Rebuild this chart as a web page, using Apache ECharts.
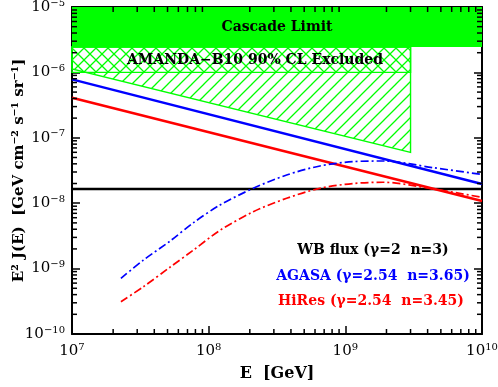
<!DOCTYPE html>
<html><head><meta charset="utf-8">
<script src="https://cdn.jsdelivr.net/npm/echarts@6/dist/echarts.min.js"></script>
<style>html,body{margin:0;padding:0;background:#fff}#c{width:498px;height:387px}</style>
</head><body><div id="c"></div>
<script>
// ---- axis ranges and ticks ----
const xMin = 1e7, xMax = 1e10;
const yMin = 1e-10, yMax = 1e-5;
const xDecades = [7, 8, 9];
const yDecades = [-10, -9, -8, -7, -6];

// ---- limits ----
const cascadeLimit = 2.44e-6;
const amandaEmax = 3e9;
const amandaCrossBottom = 1e-6;
const amandaSlopeE = [1e7, 3e9];
const amandaSlopeFlux = [1.13e-6, 6.0e-8];

// ---- fluxes ----
const wbFlux = 1.65e-8;
const powerE = [1e7, 1e10];
const agasaPower = [7.83e-7, 1.97e-8];
const hiresPower = [4.1e-7, 1.08e-8];

const curveE = [2.28e7, 3.33e7, 5.21e7, 7.71e7, 1.21e8, 2.12e8, 3.72e8, 6.52e8, 1.14e9, 1.89e9, 4.40e9, 1e10];
const agasaCurve = [7.11e-10, 1.35e-9, 2.63e-9, 5.01e-9, 9.38e-9, 1.69e-8, 2.70e-8, 3.71e-8, 4.32e-8, 4.42e-8, 3.49e-8, 2.75e-8];
const hiresCurve = [3.12e-10, 5.28e-10, 1.05e-9, 1.91e-9, 3.85e-9, 7.41e-9, 1.19e-8, 1.69e-8, 2.0e-8, 2.09e-8, 1.65e-8, 1.23e-8];

const GREEN = '#00ff00';
const SERIF = '"DejaVu Serif", serif';

function makePattern(dir) {
  const s = 12, c = document.createElement('canvas');
  c.width = s; c.height = s;
  const g = c.getContext('2d');
  g.strokeStyle = GREEN; g.lineWidth = 1.3;
  g.beginPath();
  if (dir === '/') {
    for (const k of [0, 1, 2]) { g.moveTo(-2, k * s + 2); g.lineTo(k * s + 2, -2); }
  } else {
    for (const k of [-1, 0, 1]) { g.moveTo(k * s - 2, -2); g.lineTo(k * s + s + 2, s + 2); }
  }
  g.stroke();
  return { image: c, repeat: 'repeat' };
}

const zip = (a, b) => a.map((v, i) => [v, b[i]]);

function polygonSeries(pts, fill, stroke, z) {
  return {
    type: 'custom', z: z, silent: true, data: [[pts[0][0], pts[0][1]]],
    renderItem: function (params, api) {
      const points = pts.map(p => api.coord(p));
      return { type: 'polygon', shape: { points: points },
        style: { fill: fill, stroke: stroke || null, lineWidth: 1.4 } };
    }
  };
}

// minor tick values (2..9 x each decade)
const xMinor = [], yMinor = [];
xDecades.forEach(d => { for (let m = 2; m <= 9; m++) xMinor.push(m * Math.pow(10, d)); });
yDecades.forEach(d => { for (let m = 2; m <= 9; m++) yMinor.push(m * Math.pow(10, d)); });

const labelFmt = v => '{b|10}{s|' + String(Math.round(Math.log10(v))).replace('-', '−') + '}';
const labelRich = {
  b: { fontFamily: SERIF, fontSize: 15, color: '#000', lineHeight: 18 },
  s: { fontFamily: SERIF, fontSize: 10, color: '#000', verticalAlign: 'top', lineHeight: 10 }
};

function axisBase(extra) {
  return Object.assign({
    type: 'log', logBase: 10,
    axisLine: { show: true, onZero: false, lineStyle: { color: '#000', width: 2 } },
    axisTick: { show: true, inside: true, length: 8, lineStyle: { color: '#000', width: 1.5 } },
    splitLine: { show: false },
    axisLabel: { show: false },
    nameMoveOverlap: false
  }, extra);
}

const textGraphics = [
  { type: 'text', x: 277, y: 27, z: 20, style: { text: 'Cascade Limit', font: 'bold 14px ' + SERIF, fill: '#000', textAlign: 'center', textVerticalAlign: 'middle' } },
  { type: 'text', x: 255, y: 60, z: 20, style: { text: 'AMANDA−B10 90% CL Excluded', font: 'bold 14px ' + SERIF, fill: '#000', textAlign: 'center', textVerticalAlign: 'middle' } },
  { type: 'text', x: 373, y: 250, z: 20, style: { text: 'WB flux (γ=2  n=3)', font: 'bold 14px ' + SERIF, fill: '#000', textAlign: 'center', textVerticalAlign: 'middle' } },
  { type: 'text', x: 373, y: 276, z: 20, style: { text: 'AGASA (γ=2.54  n=3.65)', font: 'bold 14px ' + SERIF, fill: '#0000ff', textAlign: 'center', textVerticalAlign: 'middle' } },
  { type: 'text', x: 371, y: 301, z: 20, style: { text: 'HiRes (γ=2.54  n=3.45)', font: 'bold 14px ' + SERIF, fill: '#ff0000', textAlign: 'center', textVerticalAlign: 'middle' } }
];

const chart = echarts.init(document.getElementById('c'), null, { renderer: 'canvas' });
chart.setOption({
  animation: false,
  backgroundColor: '#fff',
  grid: { left: 72, right: 16, top: 7, bottom: 53, containLabel: false, outerBoundsMode: 'none' },
  xAxis: [
    axisBase({ min: xMin, max: xMax, position: 'bottom',
      axisLabel: { show: true, formatter: labelFmt, rich: labelRich, margin: 8 },
      name: 'E  [GeV]', nameLocation: 'middle', nameGap: 32,
      nameTextStyle: { fontFamily: SERIF, fontSize: 16, fontWeight: 'bold', color: '#000' } }),
    axisBase({ min: xMin, max: xMax, position: 'top' })
  ],
  yAxis: [
    axisBase({ min: yMin, max: yMax, position: 'left',
      axisLabel: { show: true, formatter: labelFmt, rich: labelRich, margin: 7 },
      name: 'E² J(E)  [GeV cm⁻² s⁻¹ sr⁻¹]', nameLocation: 'middle', nameGap: 45,
      nameTextStyle: { fontFamily: SERIF, fontSize: 15, fontWeight: 'bold', color: '#000' } }),
    axisBase({ min: yMin, max: yMax, position: 'right' })
  ],
  series: [
    polygonSeries([[xMin, cascadeLimit], [xMax, cascadeLimit], [xMax, yMax], [xMin, yMax]], GREEN, null, 1),
    polygonSeries([[xMin, cascadeLimit], [amandaEmax, cascadeLimit], [amandaEmax, amandaSlopeFlux[1]], [amandaSlopeE[0], amandaSlopeFlux[0]]], makePattern('/'), GREEN, 1),
    polygonSeries([[xMin, cascadeLimit], [amandaEmax, cascadeLimit], [amandaEmax, amandaCrossBottom], [xMin, amandaCrossBottom]], makePattern('\\'), GREEN, 1),
    { type: 'line', z: 3, symbol: 'none', data: [[xMin, wbFlux], [xMax, wbFlux]], lineStyle: { color: '#000', width: 2.5 } },
    { type: 'line', z: 3, symbol: 'none', data: zip(powerE, agasaPower), lineStyle: { color: '#0000ff', width: 2.5 } },
    { type: 'line', z: 3, symbol: 'none', data: zip(powerE, hiresPower), lineStyle: { color: '#ff0000', width: 2.5 } },
    { type: 'line', z: 3, symbol: 'none', smooth: 0.3, data: zip(curveE, agasaCurve), lineStyle: { color: '#0000ff', width: 1.7, type: [8, 3, 2, 3] } },
    { type: 'line', z: 3, symbol: 'none', smooth: 0.3, data: zip(curveE, hiresCurve), lineStyle: { color: '#ff0000', width: 1.7, type: [8, 3, 2, 3] } }
  ],
  graphic: textGraphics
});

// minor ticks: positions come from the chart's own log scales
const tickStyle = { stroke: '#000', lineWidth: 1.5 };
const minorTicks = [];
const ML = 5;
xMinor.forEach(v => {
  const b = chart.convertToPixel({ gridIndex: 0 }, [v, yMin]);
  const t = chart.convertToPixel({ gridIndex: 0 }, [v, yMax]);
  minorTicks.push({ type: 'line', z: 25, silent: true, shape: { x1: b[0], y1: b[1], x2: b[0], y2: b[1] - ML }, style: tickStyle });
  minorTicks.push({ type: 'line', z: 25, silent: true, shape: { x1: t[0], y1: t[1], x2: t[0], y2: t[1] + ML }, style: tickStyle });
});
yMinor.forEach(v => {
  const l = chart.convertToPixel({ gridIndex: 0 }, [xMin, v]);
  const r = chart.convertToPixel({ gridIndex: 0 }, [xMax, v]);
  minorTicks.push({ type: 'line', z: 25, silent: true, shape: { x1: l[0], y1: l[1], x2: l[0] + ML, y2: l[1] }, style: tickStyle });
  minorTicks.push({ type: 'line', z: 25, silent: true, shape: { x1: r[0], y1: r[1], x2: r[0] - ML, y2: r[1] }, style: tickStyle });
});
chart.setOption({ graphic: textGraphics.concat(minorTicks) });
</script></body></html>
